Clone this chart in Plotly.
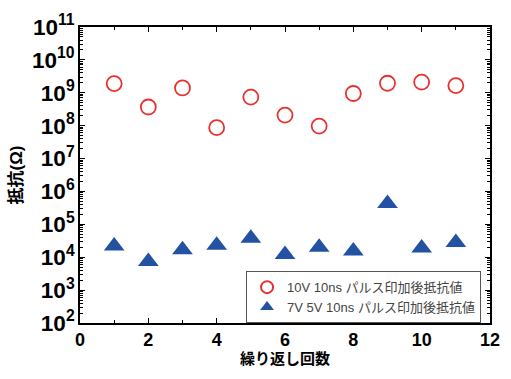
import plotly.graph_objects as go

cycles = [1, 2, 3, 4, 5, 6, 7, 8, 9, 10, 11]
r_10v = [1.9e9, 3.7e8, 1.4e9, 8.7e7, 7.4e8, 2.1e8, 9.7e7, 9.5e8, 1.95e9, 2.1e9, 1.65e9]
r_7v5v = [2.2e4, 7.4e3, 1.7e4, 2.3e4, 3.8e4, 1.2e4, 2.0e4, 1.55e4, 4.3e5, 1.9e4, 2.8e4]
name_10v = "10V 10ns パルス印加後抵抗値"
name_7v = "7V 5V 10ns パルス印加後抵抗値"
x_title = "繰り返し回数"
y_title = "抵抗(Ω)"

font_family = "Liberation Sans, Arial, Noto Sans CJK JP, sans-serif"

fig = go.Figure()
fig.add_trace(go.Scatter(
    x=cycles, y=r_10v, mode="markers", name=name_10v,
    marker=dict(symbol="circle-open", size=15, color="#e8312f", line=dict(width=1.8, color="#e8312f")),
))
fig.add_trace(go.Scatter(
    x=cycles, y=r_7v5v, mode="markers", name=name_7v,
    marker=dict(symbol="triangle-up", size=18, color="#2352a2", line=dict(width=0)),
))

fig.update_layout(
    width=511, height=379,
    margin=dict(l=80, r=11, t=18, b=56),
    paper_bgcolor="white", plot_bgcolor="white",
    font=dict(family=font_family, color="black"),
    legend=dict(
        x=0.405, y=0.175, xanchor="left", yanchor="top",
        bgcolor="white", bordercolor="#555", borderwidth=1,
        font=dict(size=13, color="#444"),
        itemsizing="constant", itemwidth=30, tracegroupgap=0,
    ),
    showlegend=True,
)
fig.update_xaxes(
    range=[0, 12], dtick=2, showgrid=False, zeroline=False,
    showline=True, linecolor="black", linewidth=1.5, mirror="ticks",
    ticks="inside", ticklen=5, tickcolor="black",
    minor=dict(ticks="inside", ticklen=3, dtick=1, tickcolor="black"),
    tickfont=dict(size=18, weight="bold"),
    title=dict(text=x_title, font=dict(size=15, weight="bold"), standoff=4),
)
fig.update_yaxes(
    type="log", range=[2, 11], dtick=1, exponentformat="power",
    showgrid=False, zeroline=False,
    showline=True, linecolor="black", linewidth=1.5, mirror="ticks",
    ticks="inside", ticklen=5, tickcolor="black",
    minor=dict(ticks="inside", ticklen=3, tickcolor="black"),
    tickfont=dict(size=18, weight="bold"),
    title=dict(text=y_title, font=dict(size=17, weight="bold"), standoff=5),
)

fig.write_html("out.html")
